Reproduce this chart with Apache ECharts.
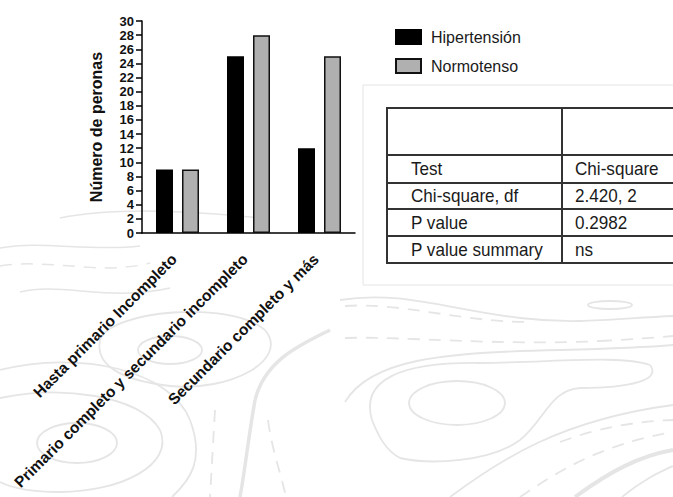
<!DOCTYPE html>
<html>
<head>
<meta charset="utf-8">
<script src="https://cdn.jsdelivr.net/npm/echarts@6/dist/echarts.min.js"></script>
<style>
  html, body { margin: 0; padding: 0; background: #fff; }
  #chart { width: 673px; height: 497px; }
</style>
</head>
<body>
<div id="chart"></div>
<script>
// datos del gráfico
const categories = ['Hasta primario Incompleto', 'Primario completo y secundario incompleto', 'Secundario completo y más'];
const hipertension = [9, 25, 12];
const normotenso = [9, 28, 25];
const yMin = 0, yMax = 30, yStep = 2;

// tabla de la prueba
const testLabels = ['Test', 'Chi-square, df', 'P value', 'P value summary'];
const testValues = ['Chi-square', '2.420, 2', '0.2982', 'ns'];

const FONT = 'Liberation Sans, Arial, Helvetica, sans-serif';
const chart = echarts.init(document.getElementById('chart'), null, { renderer: 'svg' });

// fondo de curvas de nivel (decorativo)
const contour = '#e5e5e5';
const bgPaths = [
  ['M 0 398 C 60 385, 140 395, 160 430 C 175 465, 120 492, 60 492 C 30 492, 10 487, 0 482', 0, 1.8],
  ['M 0 370 C 80 350, 170 370, 190 420 C 205 460, 190 480, 172 497', 0, 1.8],
  ['M 330 330 C 300 345, 265 360, 255 400 C 248 440, 245 470, 240 497', 0, 3.5],
  ['M 215 410 L 210 497', 1, 1.8],
  ['M 268 420 C 272 450, 280 470, 286 497', 1, 1.8],
  ['M 0 248 C 40 240, 90 252, 140 246', 0, 1.5],
  ['M 0 266 C 50 258, 100 276, 150 263', 1, 1.5],
  ['M 20 292 C 60 282, 110 302, 170 288', 0, 1.5],
  ['M 100 340 C 110 310, 230 300, 265 330 C 290 360, 230 392, 170 386 C 120 380, 95 365, 100 340', 0, 1.8],
  ['M 372 420 C 360 380, 400 362, 480 363 C 560 362, 620 355, 650 365 C 662 380, 630 388, 580 388 C 550 390, 545 420, 520 440 C 490 462, 430 465, 400 458 C 385 450, 378 435, 372 420', 0, 1.8],
  ['M 345 402 C 370 360, 440 352, 560 350 C 640 348, 673 345, 673 345', 0, 1.8],
  ['M 340 300 C 400 290, 450 310, 520 318 C 580 325, 620 318, 673 316', 0, 1.8],
  ['M 345 306 C 400 302, 460 322, 530 322', 1, 1.8],
  ['M 345 338 C 400 336, 500 346, 600 341 C 640 339, 673 336, 673 336', 1, 1.8],
  ['M 450 497 C 500 460, 560 420, 673 405', 0, 1.8],
  ['M 520 497 C 560 470, 600 445, 673 432', 1, 1.8],
  ['M 575 497 C 612 470, 640 456, 673 450', 0, 4],
  ['M 622 497 C 642 480, 660 472, 673 466', 0, 1.8],
  ['M 560 442 C 600 427, 640 421, 673 420', 1, 1.8],
  ['M 60 218 C 120 206, 200 212, 262 218', 0, 1.5]
];
const graphics = [];
bgPaths.forEach(p => {
  const tok = p[0].replace(/,/g, ' ').trim().split(/\s+/);
  let i = 0, cx = 0, cy = 0, cmd = '';
  const style = { fill: 'none', stroke: contour, lineWidth: p[2], lineDash: p[1] ? [12, 9] : null };
  while (i < tok.length) {
    if (/[MCL]/.test(tok[i])) cmd = tok[i++];
    if (cmd === 'M') { cx = +tok[i]; cy = +tok[i + 1]; i += 2; }
    else if (cmd === 'L') {
      const x = +tok[i], y = +tok[i + 1]; i += 2;
      graphics.push({ type: 'line', z: 0, silent: true, shape: { x1: cx, y1: cy, x2: x, y2: y }, style });
      cx = x; cy = y;
    } else if (cmd === 'C') {
      const v = tok.slice(i, i + 6).map(Number); i += 6;
      graphics.push({ type: 'bezierCurve', z: 0, silent: true,
        shape: { x1: cx, y1: cy, cpx1: v[0], cpy1: v[1], cpx2: v[2], cpy2: v[3], x2: v[4], y2: v[5] }, style });
      cx = v[4]; cy = v[5];
    } else i++;
  }
});
[[77, 443, 40, 20], [170, 350, 32, 14], [457, 403, 48, 22], [610, 305, 22, 4]].forEach(e => {
  graphics.push({ type: 'ellipse', z: 0, silent: true, shape: { cx: e[0], cy: e[1], rx: e[2], ry: e[3] },
    style: { fill: 'none', stroke: contour, lineWidth: 1.8 } });
});

// panel blanco y tabla
graphics.push({ type: 'rect', z: 1, shape: { x: 363, y: 85, width: 330, height: 200 }, style: { fill: '#fff', stroke: '#e4e4e4', lineWidth: 1 } });
const rowY = [108, 155, 183, 209, 236, 263];
const tLeft = 387, tDiv = 562, tRight = 700;
graphics.push({ type: 'rect', z: 2, shape: { x: tLeft, y: rowY[0], width: tRight - tLeft, height: rowY[5] - rowY[0] }, style: { fill: 'none', stroke: '#333', lineWidth: 2 } });
graphics.push({ type: 'line', z: 2, shape: { x1: tDiv, y1: rowY[0], x2: tDiv, y2: rowY[5] }, style: { stroke: '#333', lineWidth: 2 } });
for (let k = 1; k < 5; k++) {
  graphics.push({ type: 'line', z: 2, shape: { x1: tLeft, y1: rowY[k], x2: tRight, y2: rowY[k] }, style: { stroke: '#333', lineWidth: 2 } });
}
testLabels.forEach((t, k) => {
  const cy = (rowY[k + 1] + rowY[k + 2]) / 2;
  graphics.push({ type: 'text', z: 3, x: 411, y: cy, scaleX: 0.95, style: { text: t, fill: '#1a1a1a', font: '18px ' + FONT, verticalAlign: 'middle' } });
  graphics.push({ type: 'text', z: 3, x: 575, y: cy, scaleX: 0.95, style: { text: testValues[k], fill: '#1a1a1a', font: '18px ' + FONT, verticalAlign: 'middle' } });
});

chart.setOption({
  backgroundColor: '#fff',
  animation: false,
  textStyle: { fontFamily: FONT },
  graphic: graphics,
  legend: {
    orient: 'vertical', left: 390, top: 24,
    itemWidth: 25, itemHeight: 14, itemGap: 13, icon: 'rect',
    textStyle: { fontSize: 16, color: '#1a1a1a', fontFamily: FONT, padding: [0, 0, 0, 5] },
    data: ['Hipertensión', 'Normotenso']
  },
  grid: { left: 142, top: 21, width: 213, height: 212, containLabel: false },
  xAxis: {
    type: 'category',
    data: categories,
    axisLine: { lineStyle: { color: '#000', width: 1.5 } },
    axisTick: { alignWithLabel: true, length: 6, lineStyle: { color: '#000', width: 1.5 } },
    axisLabel: { interval: 0, rotate: 45, margin: 20, padding: [0, 5, 0, 0], fontSize: 15.5, fontWeight: 'bold', color: '#111', fontFamily: FONT }
  },
  yAxis: {
    type: 'value', min: yMin, max: yMax, interval: yStep,
    name: 'Número de peronas', nameLocation: 'middle', nameGap: 38, nameRotate: 90,
    nameTextStyle: { fontSize: 16, fontWeight: 'bold', color: '#111', fontFamily: FONT },
    axisLine: { show: true, lineStyle: { color: '#000', width: 1.5 } },
    axisTick: { show: true, length: 6, lineStyle: { color: '#000', width: 1.5 } },
    axisLabel: { margin: 8, fontSize: 13, fontWeight: 'bold', color: '#111', fontFamily: FONT },
    splitLine: { show: false }
  },
  series: [
    { name: 'Hipertensión', type: 'bar', data: hipertension, barWidth: 17, barGap: '53%',
      itemStyle: { color: '#000', borderColor: '#000', borderWidth: 1.5 } },
    { name: 'Normotenso', type: 'bar', data: normotenso, barWidth: 17,
      itemStyle: { color: '#b0b0b0', borderColor: '#111', borderWidth: 1.5 } }
  ]
});
</script>
</body>
</html>
